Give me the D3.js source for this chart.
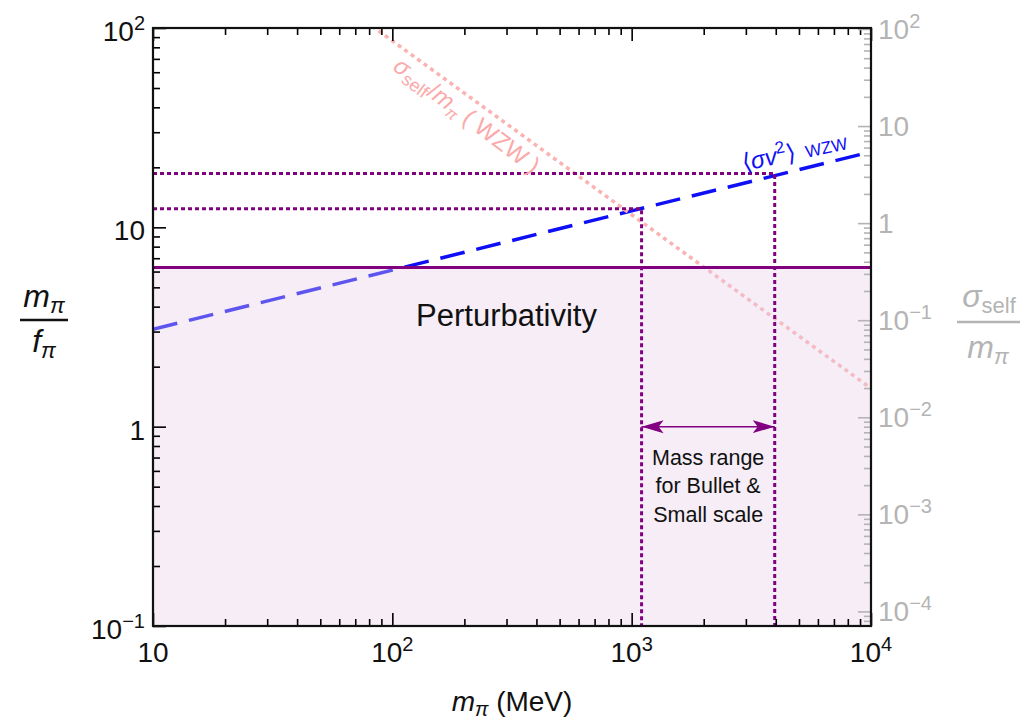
<!DOCTYPE html>
<html><head><meta charset="utf-8">
<script src="https://cdn.jsdelivr.net/npm/d3@7"></script>
<style>
body{margin:0;background:#fff}
text{font-family:"Liberation Sans",Arial,Helvetica,sans-serif}
</style>
</head><body>
<svg id="c" width="1035" height="723"></svg>
<script>
// ---------- data ----------
const xDomain = [10, 1e4];
const yDomain = [0.1, 100];
const y2Domain = [Math.pow(10, -4.15), Math.pow(10, 2.01)];
const xTicks = [10, 100, 1000, 10000];
const xTickLabels = [["10", ""], ["10", "2"], ["10", "3"], ["10", "4"]];
const yTicks = [0.1, 1, 10, 100];
const yTickLabels = [["10", "−1"], ["1", ""], ["10", ""], ["10", "2"]];
const y2Ticks = [1e-4, 1e-3, 1e-2, 1e-1, 1, 10, 100];
const y2TickLabels = [["10", "−4"], ["10", "−3"], ["10", "−2"], ["10", "−1"], ["1", ""], ["10", ""], ["10", "2"]];
const perturbativity = 2 * Math.PI;
const sigmaVMass = [10, 100, 1000, 10000];
const sigmaVValues = [3.08, 6.1, 12.1, 23.9];
const sigmaSelfMass = [50, 100, 1000, 9700];
const sigmaSelfValues = [262, 75.5, 1.22, 0.021];
const massRange = [1100, 3960];
const massRangeHeights = [12.4, 18.6];
const arrowLevel = 1.0;
const perturbLabelPos = [300, 3.6];

// ---------- layout ----------
const margin = {left: 153, top: 28};
const W = 718, H = 598;
const purple = "#800080", blue = "rgb(15,15,245)", pink = "rgb(250,178,178)", gray = "rgb(180,180,180)";

const svg = d3.select("#c");
const g = svg.append("g").attr("transform", `translate(${margin.left},${margin.top})`);

const x = d3.scaleLog().domain(xDomain).range([0, W]);
const y = d3.scaleLog().domain(yDomain).range([H, 0]);
const y2 = d3.scaleLog().domain(y2Domain).range([H, 0]);

g.append("clipPath").attr("id", "clip").append("rect").attr("width", W).attr("height", H);
const plot = g.append("g").attr("clip-path", "url(#clip)");

// blue dashed <sigma v^2>
const lineY = d3.line().x(d => x(d[0])).y(d => y(d[1]));
plot.append("path")
  .datum(sigmaVMass.map((m, i) => [m, sigmaVValues[i]]))
  .attr("d", lineY).attr("fill", "none").attr("stroke", blue)
  .attr("stroke-width", 3.5).attr("stroke-dasharray", "25,12");

// pink dotted sigma_self/m
const lineY2 = d3.line().x(d => x(d[0])).y(d => y2(d[1]));
plot.append("path")
  .datum(sigmaSelfMass.map((m, i) => [m, sigmaSelfValues[i]]))
  .attr("d", lineY2).attr("fill", "none").attr("stroke", pink)
  .attr("stroke-width", 3.5).attr("stroke-dasharray", "4,4");

// perturbativity fill
plot.append("rect")
  .attr("x", x(xDomain[0])).attr("width", x(xDomain[1]) - x(xDomain[0]))
  .attr("y", y(perturbativity)).attr("height", y(yDomain[0]) - y(perturbativity))
  .attr("fill", "rgb(231,206,231)").attr("fill-opacity", 0.37);

// perturbativity line
plot.append("line")
  .attr("x1", x(xDomain[0])).attr("x2", x(xDomain[1]))
  .attr("y1", y(perturbativity)).attr("y2", y(perturbativity))
  .attr("stroke", purple).attr("stroke-width", 3);

// mass range dotted lines
massRange.forEach((m, i) => {
  const h = massRangeHeights[i];
  plot.append("path")
    .attr("d", `M${x(xDomain[0])},${y(h)}H${x(m)}V${y(yDomain[0])}`)
    .attr("fill", "none").attr("stroke", purple).attr("stroke-width", 3)
    .attr("stroke-dasharray", "4,3");
});

// arrow
const defs = svg.append("defs");
["start", "end"].forEach(k => {
  const mk = defs.append("marker").attr("id", "arr-" + k)
    .attr("markerUnits", "userSpaceOnUse").attr("markerWidth", 24).attr("markerHeight", 16)
    .attr("viewBox", "0 -8 24 16").attr("refX", 22).attr("refY", 0)
    .attr("orient", k === "end" ? "auto" : "auto-start-reverse");
  mk.append("path").attr("d", "M0,-6.5L22,0L0,6.5L5,0Z").attr("fill", purple);
});
g.append("line")
  .attr("x1", x(massRange[0])).attr("x2", x(massRange[1]))
  .attr("y1", y(arrowLevel)).attr("y2", y(arrowLevel))
  .attr("stroke", purple).attr("stroke-width", 1.5)
  .attr("marker-start", "url(#arr-start)").attr("marker-end", "url(#arr-end)");

// mass range text
const mx = Math.sqrt(massRange[0] * massRange[1]);
["Mass range", "for Bullet &", "Small scale"].forEach((t, i) => {
  g.append("text").attr("x", x(mx)).attr("y", y(arrowLevel) + 38 + i * 28.5)
    .attr("text-anchor", "middle").attr("font-size", 21.5).attr("fill", "#111").text(t);
});

// Perturbativity label
g.append("text").attr("x", x(perturbLabelPos[0])).attr("y", y(perturbLabelPos[1]) + 10)
  .attr("text-anchor", "middle").attr("font-size", 31).attr("fill", "#111").text("Perturbativity");

// pink label
{
  const t = g.append("text").attr("font-size", 24).attr("fill", "rgb(250,170,170)")
    .attr("text-anchor", "middle")
    .attr("transform", `translate(${462 - margin.left},${122 - margin.top}) rotate(37)`);
  t.append("tspan").attr("font-style", "italic").text("σ");
  t.append("tspan").attr("font-size", 18).attr("dy", 5).text("self");
  t.append("tspan").attr("dy", -5).text("/");
  t.append("tspan").attr("font-style", "italic").text("m");
  t.append("tspan").attr("font-size", 16).attr("font-style", "italic").attr("dy", 5).text("π");
  t.append("tspan").attr("dy", -5).text(" ( WZW )");
}
// blue label
{
  const t = g.append("text").attr("font-size", 24).attr("fill", blue)
    .attr("text-anchor", "middle")
    .attr("transform", `translate(${796 - margin.left},${160 - margin.top}) rotate(-12)`);
  t.append("tspan").text("⟨");
  t.append("tspan").attr("font-style", "italic").text("σv");
  t.append("tspan").attr("font-size", 17).attr("dy", -10).text("2");
  t.append("tspan").attr("dy", 10).text("⟩");
  t.append("tspan").attr("font-size", 17).attr("dx", 6).text(" WZW");
}

// ---------- axes ----------
function minorOf(scale, majors) {
  return scale.ticks().filter(v => !majors.some(m => Math.abs(Math.log10(v) - Math.log10(m)) < 1e-6));
}
function styleAxis(sel, color) {
  sel.select(".domain").remove();
  sel.selectAll(".tick line").attr("stroke", color).attr("stroke-width", 1.6);
}
const xMinor = minorOf(x, xTicks);
const yMinor = minorOf(y, yTicks);
const y2Minor = minorOf(y2, y2Ticks);

g.append("g").attr("transform", `translate(0,${H})`)
  .call(d3.axisBottom(x).tickValues(xTicks).tickFormat("").tickSize(-13)).call(s => styleAxis(s, "#000"));
g.append("g").attr("transform", `translate(0,${H})`)
  .call(d3.axisBottom(x).tickValues(xMinor).tickFormat("").tickSize(-7)).call(s => styleAxis(s, "#000"));
g.append("g")
  .call(d3.axisTop(x).tickValues(xTicks).tickFormat("").tickSize(-13)).call(s => styleAxis(s, "#000"));
g.append("g")
  .call(d3.axisTop(x).tickValues(xMinor).tickFormat("").tickSize(-7)).call(s => styleAxis(s, "#000"));
g.append("g")
  .call(d3.axisLeft(y).tickValues(yTicks).tickFormat("").tickSize(-13)).call(s => styleAxis(s, "#000"));
g.append("g")
  .call(d3.axisLeft(y).tickValues(yMinor).tickFormat("").tickSize(-7)).call(s => styleAxis(s, "#000"));
g.append("g").attr("transform", `translate(${W},0)`)
  .call(d3.axisRight(y2).tickValues(y2Ticks).tickFormat("").tickSize(-13)).call(s => styleAxis(s, gray));
g.append("g").attr("transform", `translate(${W},0)`)
  .call(d3.axisRight(y2).tickValues(y2Minor.filter(v => y2(v) >= 0 && y2(v) <= H)).tickFormat("").tickSize(-7)).call(s => styleAxis(s, gray));

// frame
g.append("rect").attr("width", W).attr("height", H).attr("fill", "none")
  .attr("stroke", "#111").attr("stroke-width", 2.2);

// tick labels
function powLabel(parent, px, py, lab, anchor, color) {
  const t = parent.append("text").attr("x", px).attr("y", py).attr("text-anchor", anchor)
    .attr("font-size", 28).attr("fill", color);
  t.append("tspan").text(lab[0]);
  if (lab[1]) t.append("tspan").attr("font-size", 20).attr("dy", -11).text(lab[1]);
  return t;
}
xTicks.forEach((v, i) => powLabel(g, x(v), H + 36, xTickLabels[i], "middle", "#111"));
yTicks.forEach((v, i) => powLabel(g, -8, y(v) + 13, yTickLabels[i], "end", "#111"));
y2Ticks.forEach((v, i) => powLabel(g, W + 7, y2(v) + 10, y2TickLabels[i], "start", gray));

// axis titles
{
  const t = svg.append("text").attr("x", 512).attr("y", 711).attr("text-anchor", "middle")
    .attr("font-size", 28).attr("fill", "#111");
  t.append("tspan").attr("font-style", "italic").text("m");
  t.append("tspan").attr("font-style", "italic").attr("font-size", 20).attr("dy", 5).text("π");
  t.append("tspan").attr("dy", -5).text(" (MeV)");
}
{
  const t1 = svg.append("text").attr("x", 44).attr("y", 307).attr("text-anchor", "middle")
    .attr("font-size", 32).attr("fill", "#111");
  t1.append("tspan").attr("font-style", "italic").text("m");
  t1.append("tspan").attr("font-style", "italic").attr("font-size", 22).attr("dy", 6).text("π");
  svg.append("line").attr("x1", 20).attr("x2", 68).attr("y1", 320).attr("y2", 320)
    .attr("stroke", "#111").attr("stroke-width", 2.5);
  const t2 = svg.append("text").attr("x", 44).attr("y", 352).attr("text-anchor", "middle")
    .attr("font-size", 32).attr("fill", "#111");
  t2.append("tspan").attr("font-style", "italic").text("f");
  t2.append("tspan").attr("font-style", "italic").attr("font-size", 22).attr("dy", 6).text("π");
}
{
  const t1 = svg.append("text").attr("x", 989).attr("y", 307).attr("text-anchor", "middle")
    .attr("font-size", 32).attr("fill", gray);
  t1.append("tspan").attr("font-style", "italic").text("σ");
  t1.append("tspan").attr("font-size", 22).attr("dy", 6).text("self");
  svg.append("line").attr("x1", 957).attr("x2", 1020).attr("y1", 322).attr("y2", 322)
    .attr("stroke", gray).attr("stroke-width", 2.5);
  const t2 = svg.append("text").attr("x", 988).attr("y", 358).attr("text-anchor", "middle")
    .attr("font-size", 32).attr("fill", gray);
  t2.append("tspan").attr("font-style", "italic").text("m");
  t2.append("tspan").attr("font-style", "italic").attr("font-size", 22).attr("dy", 6).text("π");
}
</script>
</body></html>
